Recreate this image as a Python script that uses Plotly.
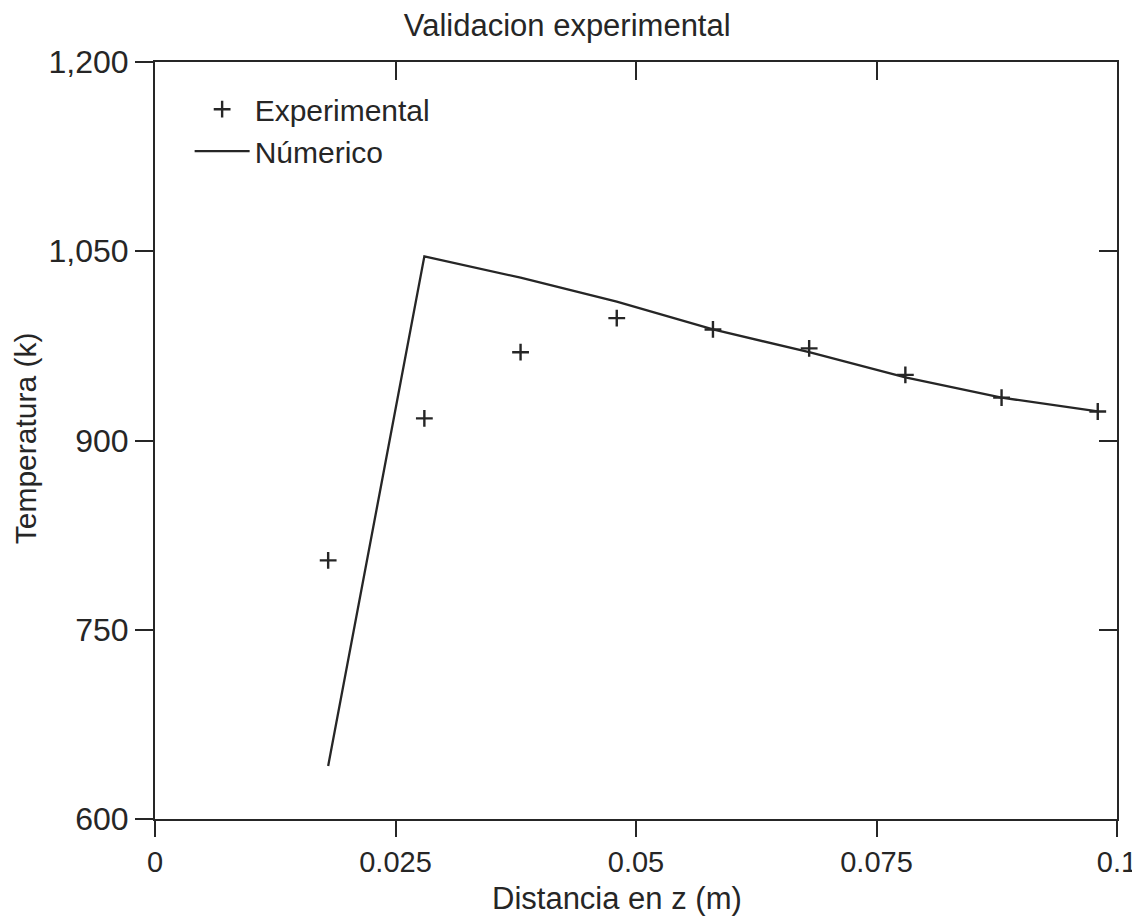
import plotly.graph_objects as go

# Data
exp_x = [0.018, 0.028, 0.038, 0.048, 0.058, 0.068, 0.078, 0.088, 0.098]
exp_T = [805, 917.5, 970, 997, 988, 973, 952, 934, 923]
num_x = [0.018, 0.028, 0.038, 0.048, 0.058, 0.068, 0.078, 0.088, 0.098]
num_T = [642, 1046, 1029, 1010, 988, 970, 950, 934, 923]
x_ticks = [0, 0.025, 0.05, 0.075, 0.1]
x_ticklabels = ["0", "0.025", "0.05", "0.075", "0.1"]
y_ticks = [600, 750, 900, 1050, 1200]
y_ticklabels = ["600", "750", "900", "1,050", "1,200"]

FONT = "Liberation Sans, Arial, sans-serif"
INK = "#262626"

fig = go.Figure()
fig.add_trace(go.Scatter(
    x=exp_x, y=exp_T, mode="markers", name="Experimental",
    marker=dict(symbol="cross-thin", size=12, color=INK,
                line=dict(color=INK, width=2.4)),
))
fig.add_trace(go.Scatter(
    x=num_x, y=num_T, mode="lines", name="Númerico",
    line=dict(color=INK, width=2.3),
))
# invisible trace for mirrored inside ticks
fig.add_trace(go.Scatter(x=[None], y=[None], xaxis="x2", yaxis="y2",
                         showlegend=False, hoverinfo="skip"))

axis_common = dict(showgrid=False, zeroline=False, showline=True,
                   linecolor=INK, linewidth=2, tickcolor=INK, tickwidth=2)
fig.update_layout(
    width=1132, height=913,
    margin=dict(l=147, r=23, t=54, b=102, autoexpand=False),
    paper_bgcolor="white", plot_bgcolor="white",
    font=dict(family=FONT, size=31, color=INK),
    title=dict(text="Validacion experimental", x=0.494, xref="container",
               xanchor="center", y=0.9814, yref="container", yanchor="middle",
               font=dict(size=31, color=INK)),
    xaxis=dict(range=[0, 0.1], tickvals=x_ticks, ticktext=x_ticklabels,
               ticks="outside", ticklen=16, tickfont=dict(size=29), **axis_common),
    yaxis=dict(range=[600, 1200], tickvals=y_ticks, ticktext=y_ticklabels,
               ticks="outside", ticklen=18, tickfont=dict(size=32), **axis_common),
    xaxis2=dict(range=[0, 0.1], tickvals=x_ticks, overlaying="x", side="top",
                ticks="inside", ticklen=18, showticklabels=False, anchor="y",
                **axis_common),
    yaxis2=dict(range=[600, 1200], tickvals=y_ticks, overlaying="y", side="right",
                ticks="inside", ticklen=18, showticklabels=False, anchor="x",
                **axis_common),
    legend=dict(x=0.036, y=0.972, xanchor="left", yanchor="top",
                bgcolor="rgba(0,0,0,0)", borderwidth=0, itemwidth=55,
                font=dict(size=30, color=INK), tracegroupgap=0),
    showlegend=True,
    annotations=[
        dict(text="Distancia en z (m)", xref="paper", yref="paper",
             x=0.48, y=-0.1045, xanchor="center", yanchor="middle",
             showarrow=False, font=dict(size=31, color=INK)),
        dict(text="Temperatura (k)", xref="paper", yref="paper",
             x=-0.1351, y=0.503, xanchor="center", yanchor="middle",
             textangle=-90, showarrow=False, font=dict(size=30, color=INK)),
    ],
)

fig.write_html("out.html")
